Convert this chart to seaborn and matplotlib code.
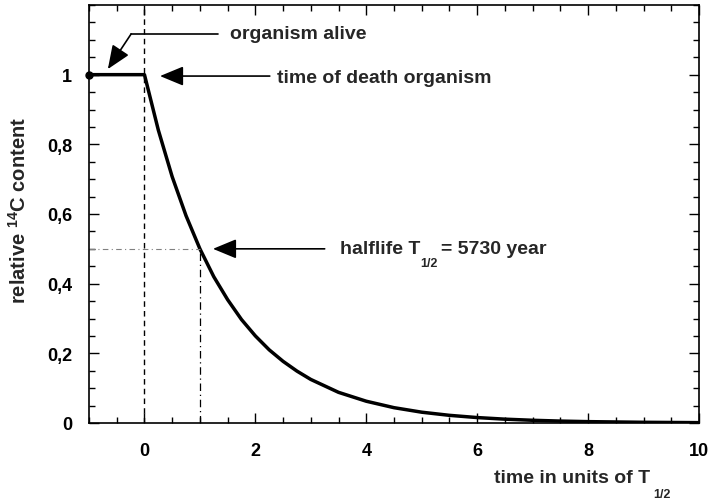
import matplotlib
matplotlib.use("Agg")
import matplotlib.pyplot as plt
from matplotlib.ticker import MultipleLocator, FixedLocator
import pandas as pd
import seaborn as sns

# values
t_alive = [-1.0, 0.0]
c_alive = [1.0, 1.0]
t_decay = [0.0, 0.25, 0.5, 0.75, 1.0, 1.25, 1.5, 1.75, 2.0, 2.25, 2.5, 2.75, 3.0,
           3.5, 4.0, 4.5, 5.0, 5.5, 6.0, 6.5, 7.0, 7.5, 8.0, 9.0, 10.0]
c_decay = [1.0, 0.841, 0.707, 0.595, 0.5, 0.42, 0.354, 0.297, 0.25, 0.21, 0.177,
           0.149, 0.125, 0.088, 0.0625, 0.044, 0.031, 0.022, 0.0156, 0.011, 0.0078,
           0.0055, 0.0039, 0.002, 0.001]
x_ticks = [0, 2, 4, 6, 8, 10]
y_ticks = [0, 0.2, 0.4, 0.6, 0.8, 1.0]
y_tick_labels = ["0", "0,2", "0,4", "0,6", "0,8", "1"]

sns.set_style("ticks")
plt.rcParams["font.family"] = ["Liberation Sans", "DejaVu Sans"]
plt.rcParams["font.weight"] = "bold"
plt.rcParams["mathtext.fontset"] = "custom"
plt.rcParams["mathtext.rm"] = "Liberation Sans:bold"
plt.rcParams["mathtext.bf"] = "Liberation Sans:bold"
plt.rcParams["mathtext.default"] = "bf"

df = pd.DataFrame({"t": t_alive + t_decay[1:], "c": c_alive + c_decay[1:]})

fig = plt.figure(figsize=(7.12, 5.02), dpi=100)
ax = fig.add_axes([89 / 712, 78 / 502, 610 / 712, 418 / 502])

sns.lineplot(data=df, x="t", y="c", color="black", linewidth=2.5, ax=ax)
ax.plot([-1], [1], "o", color="black", markersize=5, clip_on=False, zorder=5)
ax.set_xlabel("")
ax.set_ylabel("")

# guide lines
ax.axvline(0, color="black", linestyle=(0, (4, 3)), linewidth=1)
ax.plot([1, 1], [0, 0.5], color="black", linestyle=(0, (6, 3, 1, 3)), linewidth=0.9)
ax.plot([-1, 1], [0.5, 0.5], color="0.5", linestyle=(0, (5, 3, 1, 3)), linewidth=0.8)

# annotations
fs = 14
arrow = dict(arrowstyle="-|>,head_length=1.45,head_width=0.6", color="black", lw=1.2,
             shrinkA=0, shrinkB=0)
ax.plot([1.33, -0.24], [1.117, 1.117], color="black", lw=1.2)
ax.annotate("", xy=(-0.66, 1.016), xytext=(-0.24, 1.117), arrowprops=arrow)
ax.text(1.54, 1.117, "organism alive", fontsize=fs, va="center", ha="left")

ax.annotate("", xy=(0.28, 0.996), xytext=(2.26, 0.996), arrowprops=arrow)
ax.text(2.39, 0.993, "time of death organism", fontsize=fs, va="center", ha="left")

ax.annotate("", xy=(1.235, 0.5), xytext=(3.25, 0.5), arrowprops=arrow)
h1 = ax.text(3.53, 0.502, "halflife T", fontsize=fs, va="center", ha="left")
h2 = ax.annotate("1/2", xy=(1, 0), xycoords=h1, xytext=(0, 0), textcoords="offset points",
                 fontsize=9, va="top", ha="left")
ax.annotate("= 5730 year", xy=(1, 0), xycoords=(h2, h1), xytext=(2, 0),
            textcoords="offset points", fontsize=fs, va="bottom", ha="left")

ax.set_xlim(-1, 10)
ax.set_ylim(0, 1.2)
ax.xaxis.set_major_locator(FixedLocator(x_ticks))
ax.xaxis.set_minor_locator(MultipleLocator(0.5))
ax.yaxis.set_major_locator(FixedLocator(y_ticks))
ax.set_yticklabels(y_tick_labels)
ax.yaxis.set_minor_locator(MultipleLocator(0.05))
ax.tick_params(which="both", direction="in", top=True, right=True, labelsize=13,
               width=1, colors="black")
ax.tick_params(which="major", length=7)
ax.tick_params(axis="y", which="major", pad=12)
ax.tick_params(axis="x", which="major", pad=14)
ax.tick_params(which="minor", length=4)
for s in ax.spines.values():
    s.set_linewidth(1.2)
    s.set_color("black")

# axis titles
x1 = ax.text(0.92, -0.131, "time in units of T", transform=ax.transAxes, fontsize=fs,
             ha="right", va="center")
ax.annotate("1/2", xy=(1, 0), xycoords=x1, xytext=(2, -1), textcoords="offset points",
            fontsize=9, va="top", ha="left")
ax.text(-0.115, 0.51, "relative $^{14}$C content", transform=ax.transAxes, fontsize=14.5,
        rotation=90, ha="center", va="center")

fig.savefig("out.png", dpi=100)
